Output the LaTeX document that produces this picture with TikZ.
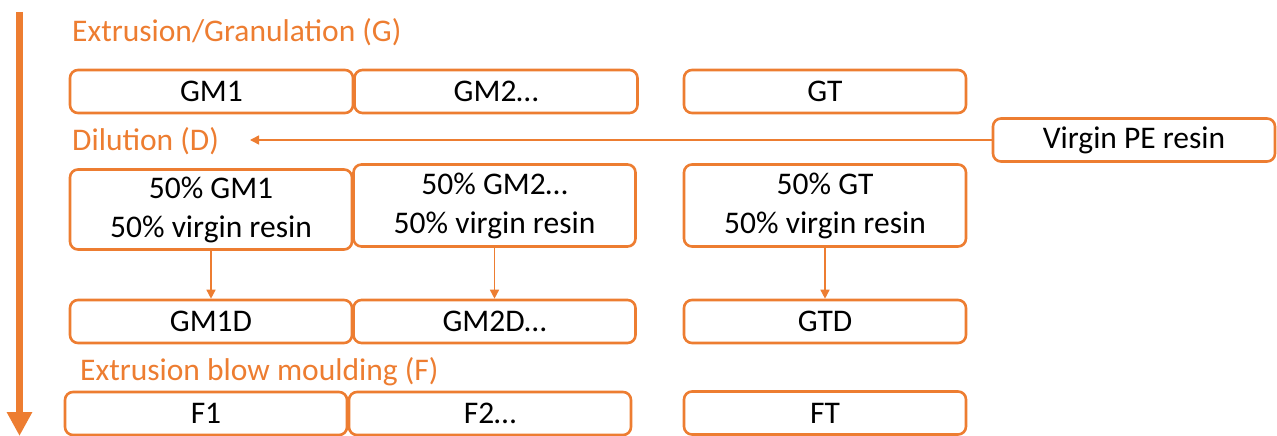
\documentclass[tikz,border=0pt]{standalone}
\usepackage{fontspec}
\setmainfont{Carlito}
\usetikzlibrary{arrows.meta}
\definecolor{accent}{HTML}{ED7D31}
\begin{document}
\begin{tikzpicture}[x=1pt,y=-1pt,
  box/.style={draw=accent, line width=2.6pt, rounded corners=8pt, fill=white,
    text=black, align=center, inner sep=0pt,
    font=\fontsize{31.5}{39}\selectfont},
  slim/.style={box, minimum width=282pt, minimum height=43pt},
  mix/.style={box, minimum width=282pt, minimum height=81pt},
  stage/.style={text=accent, anchor=base west, inner sep=0pt,
    font=\fontsize{31.5}{38}\selectfont},
  link/.style={draw=accent, line width=1.5pt, -{Triangle[length=9pt,width=9pt]}},
  flow/.style={draw=accent, line width=7pt, -{Triangle[length=24pt,width=24pt]}}]
\useasboundingbox (0,0) rectangle (1277,436);

% overall process direction
\coordinate (flowtop) at (19.5,12);
\coordinate (flowend) at (19.5,436);
\draw[flow] (flowtop) -- (flowend);

% stage titles
\node[stage] (tg) at (72,42) {Extrusion/Granulation (G)};
\node[stage] (td) at (72,150) {Dilution (D)};
\node[stage] (tf) at (80,380) {Extrusion blow moulding (F)};

% granulation
\node[slim, minimum width=283pt] (gm1) at (211.5,91.5) {GM1};
\node[slim, minimum width=283pt] (gm2) at (496,91.5) {GM2…};
\node[slim] (gt) at (825,91.5) {GT};

% virgin resin feed
\node[slim] (virgin) at (1134,140) {Virgin PE resin};
\coordinate (feedend) at (250,140);
\draw[link] (virgin) -- (feedend);

% dilution mixes
\node[mix, minimum height=80pt] (dgm1) at (211,209.5) {50\% GM1\\50\% virgin resin};
\node[mix, minimum height=82pt] (dgm2) at (494.5,205.5) {50\% GM2…\\50\% virgin resin};
\node[mix, minimum height=82pt] (dgt) at (825,205.5) {50\% GT\\50\% virgin resin};

% diluted grades
\node[slim] (gm1d) at (211,321.5) {GM1D};
\node[slim] (gm2d) at (494.5,321.5) {GM2D…};
\node[slim] (gtd) at (825,321.5) {GTD};

\draw[link] (dgm1) -- (gm1d);
\draw[link] (dgm2) -- (gm2d);
\draw[link] (dgt) -- (gtd);

% blow moulded bottles
\node[slim] (f1) at (206,413.5) {F1};
\node[slim] (f2) at (490,413.5) {F2…};
\node[slim] (ft) at (825,413) {FT};
\end{tikzpicture}
\end{document}
